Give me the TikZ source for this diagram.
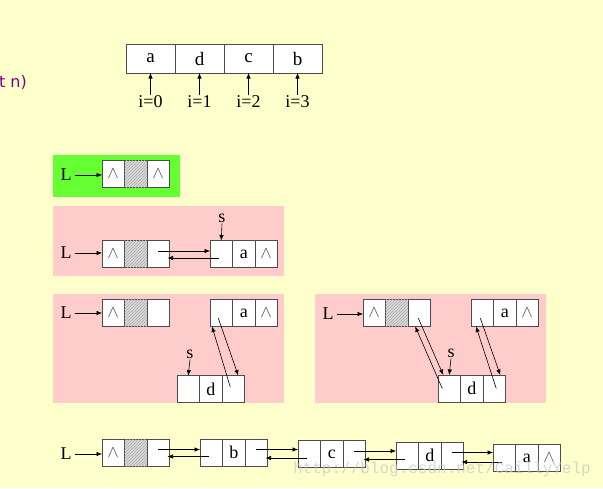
\documentclass[tikz,border=0pt]{standalone}
\usepackage{fontspec}
\setmainfont{Liberation Serif}
\newfontfamily\slidefont{DejaVu Sans}
\newfontfamily\wmfont{Liberation Mono}
\usetikzlibrary{positioning,arrows.meta,patterns}

\definecolor{slidebg}{HTML}{FFFFCC}
\definecolor{panelgreen}{HTML}{66FF33}
\definecolor{panelpink}{HTML}{FFCCCC}
\definecolor{slidepurple}{HTML}{800080}

\tikzset{
  cell/.style={draw=black!70, fill=white, line width=0.8pt, outer sep=0pt,
    inner sep=0pt, minimum width=22.5pt, minimum height=27pt,
    font=\fontsize{18}{18}\selectfont},
  headcell/.style={fill=gray!30, postaction={pattern=north east lines, pattern color=gray!65}},
  arr/.style={cell, minimum width=49pt, minimum height=29pt, font=\fontsize{19}{19}\selectfont},
  ptr/.style={-{Latex[length=5.5pt,width=4.5pt]}, line width=0.6pt},
  lbl/.style={inner sep=1pt, font=\fontsize{18}{18}\selectfont}
}

% double linked node: [middle style]{name}{left cell centre}{prior}{data}{next}
\newcommand{\dnode}[6][]{%
  \node[cell] (#2-p) at (#3) {#4};
  \node[cell,#1,right=0pt of #2-p] (#2-d) {#5};
  \node[cell,right=0pt of #2-d] (#2-n) {#6};
}
\newcommand{\nil}{\textcolor{gray!60!black}{$\wedge$}}

\begin{document}
\begin{tikzpicture}[x=1pt,y=-1pt]
  \fill[slidebg] (0,0) rectangle (603,488);
  \useasboundingbox (0,0) rectangle (603,488);

  \node[anchor=east, text=slidepurple, inner sep=0pt, font=\slidefont\fontsize{16}{16}\selectfont] (title) at (27,82) {t n)};

  % array
  \foreach \t [count=\k from 0] in {a,d,c,b}
  {
    \node[arr] (arr\k) at (150.5+49*\k,58.5) {\t};
    \node[lbl] (idx\k) at (150.5+49*\k,102) {i=\k};
    \draw[ptr] (idx\k.north) -- (arr\k.south);
  };

  % panels
  \fill[panelgreen] (53,155) rectangle (180,197);
  \fill[panelpink] (53,206) rectangle (284,276);
  \fill[panelpink] (53,294) rectangle (284,403);
  \fill[panelpink] (315,294) rectangle (546,403);

  % empty list
  \node[lbl] (L0) at (66,175) {L};
  \dnode[headcell]{h0}{113.25,174}{\nil}{}{\nil}
  \draw[ptr] ([xshift=2pt]L0.east) -- (L0.east -| h0-p.west);

  % insert first node
  \node[lbl] (L1) at (66,253) {L};
  \dnode[headcell]{h1}{113.25,254}{\nil}{}{}
  \dnode{a1}{221.25,254}{}{a}{\nil}
  \node[lbl] (s1) at (222,218) {s};
  \draw[ptr] ([xshift=2pt]L1.east) -- (L1.east -| h1-p.west);
  \draw[ptr] (s1.south) -- (a1-p.north);
  \draw[ptr] ([yshift=3pt]h1-n.center) -- ([yshift=3pt]h1-n.center -| a1-p.west);
  \draw[ptr] ([xshift=-2pt,yshift=-4pt]a1-p.center) -- ([xshift=-2pt,yshift=-4pt]a1-p.center -| h1-n.east);

  % new node s
  \node[lbl] (L2) at (66,313) {L};
  \dnode[headcell]{h2}{113.25,313}{\nil}{}{}
  \dnode{a2}{221.25,313}{}{a}{\nil}
  \dnode{d2}{188.25,389}{}{d}{}
  \node[lbl] (s2) at (190,354) {s};
  \draw[ptr] ([xshift=2pt]L2.east) -- (L2.east -| h2-p.west);
  \draw[ptr] (s2.south) -- (d2-p.north);
  \draw[ptr] ([xshift=-3pt,yshift=-5pt]a2-p.center) -- ([xshift=5pt]d2-n.north);
  \draw[ptr] ([xshift=-3pt,yshift=2pt]d2-n.center) -- ([xshift=2pt]a2-p.south west);

  % link s between head and a
  \node[lbl] (L3) at (328,314) {L};
  \dnode[headcell]{h3}{374.25,313}{\nil}{}{}
  \dnode{a3}{482.25,313}{}{a}{\nil}
  \dnode{d3}{449.25,388.5}{}{d}{}
  \node[lbl] (s3) at (451,353) {s};
  \draw[ptr] ([xshift=2pt]L3.east) -- (L3.east -| h3-p.west);
  \draw[ptr] (s3.south) -- (d3-p.north);
  \draw[ptr] ([xshift=-1pt,yshift=-5pt]h3-n.center) -- ([xshift=-6pt]d3-p.north);
  \draw[ptr] ([xshift=-7pt]d3-p.center) -- ([xshift=-4pt]h3-n.south);
  \draw[ptr] ([xshift=-2pt,yshift=-5pt]a3-p.center) -- ([xshift=6pt]d3-n.north);
  \draw[ptr] ([xshift=2pt]d3-n.center) -- ([xshift=5pt]a3-p.south west);

  % final list
  \node[lbl] (L4) at (66,454) {L};
  \dnode[headcell]{h4}{113.25,452.5}{\nil}{}{}
  \dnode{b4}{211.25,452.5}{}{b}{}
  \dnode{c4}{309.25,454}{}{c}{}
  \dnode{d4}{407.25,455.5}{}{d}{}
  \dnode{a4}{504.25,458}{}{a}{\nil}
  \draw[ptr] ([xshift=2pt]L4.east) -- (L4.east -| h4-p.west);
  \foreach \u/\v in {h4/b4,b4/c4,c4/d4,d4/a4}
  {
    \draw[ptr] ([yshift=3pt]\u-n.center) -- ([yshift=3pt]\u-n.center -| \v-p.west);
    \draw[ptr] ([xshift=-2pt,yshift=-4pt]\v-p.center) -- ([xshift=-2pt,yshift=-4pt]\v-p.center -| \u-n.east);
  };

  \node[text=gray!45, opacity=0.7, inner sep=0pt, font=\wmfont\fontsize{16}{16}\selectfont] (mark) at (442,469) {http://blog.csdn.net/CaillyYelp};
\end{tikzpicture}
\end{document}
